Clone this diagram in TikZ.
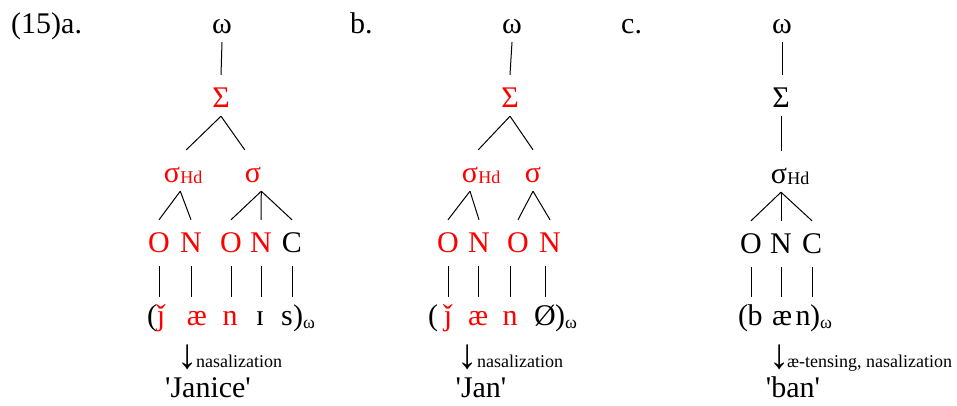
\documentclass[tikz,border=0pt]{standalone}
\usepackage{fontspec}
\setmainfont{Liberation Serif}
\usepackage{xcolor}
\newcommand{\lfont}{\fontsize{30}{34}\selectfont}
\newcommand{\sfont}{\fontsize{18}{20}\selectfont}
\newcommand{\hfont}{\fontsize{18}{20}\selectfont}
\newcommand{\wsub}{\raisebox{-3pt}{\sfont ω}}
\newcommand{\qt}[1]{\textquotesingle#1\textquotesingle}
\newcommand{\dnarrow}{\scalebox{1.35}[1.4]{↓}}
\tikzset{
  lv/.style={anchor=base, inner sep=0pt, text height=32pt, text depth=9pt, font=\lfont},
  seg/.style={lv, text height=28pt},
  rd/.style={text=red},
  hd/.style={anchor=base west, inner sep=0pt, font=\hfont},
  br/.style={line width=1pt},
  txt/.style={anchor=base, inner sep=0pt, font=\lfont},
  sm/.style={anchor=base west, inner sep=0pt, font=\sfont},
  dn/.style={anchor=base, inner sep=0pt, text height=24pt, text depth=0pt, font=\lfont}
}
\begin{document}
\begin{tikzpicture}[x=1pt,y=-1pt]
  \useasboundingbox (0,0) rectangle (957,405);
  \node[txt, anchor=base west] (la) at (11,33) {(15)a.};
  \node[txt, anchor=base west] (lb) at (350,33) {b.};
  \node[txt, anchor=base west] (lc) at (621,33) {c.};
  % (a) Janice
  \node[lv] (wa) at (222,33) {ω};
  \node[lv, rd] (Sa) at (221,107) {Σ};
  \node[lv, rd] (sa1) at (172,182) {σ};
  \node[hd, rd] (ha) at ([yshift=-1pt]sa1.base east) {Hd};
  \node[lv, rd] (sa2) at (253,182) {σ};
  \node[lv, rd, text depth=14pt] (Oa1) at (159,252) {O};
  \node[lv, rd, text depth=14pt] (Na1) at (191,252) {N};
  \node[lv, rd, text depth=14pt] (Oa2) at (231,252) {O};
  \node[lv, rd, text depth=14pt] (Na2) at (261,252) {N};
  \node[lv, text depth=14pt] (Ca) at (292,252) {C};
  \node[seg, anchor=base west] (pa1) at (147,325) {(};
  \node[seg, rd] (ja) at (161,325) {ǰ};
  \node[seg, rd] (aea) at (197,325) {æ};
  \node[seg, rd] (na) at (230,325) {n};
  \node[seg] (ia) at (260,325) {ɪ};
  \node[seg] (za) at (287,325) {s};
  \node[seg, anchor=base west] (pa2) at (293,325) {)\wsub};
  \draw[br] (wa.south) -- (Sa.north);
  \draw[br] (Sa.south) -- ([xshift=6pt]sa1.north east);
  \draw[br] (Sa.south) -- (sa2.north west);
  \draw[br] (sa1.south east) -- (Oa1.north);
  \draw[br] (sa1.south east) -- (Na1.north);
  \foreach \c in {Oa2,Na2,Ca}
    \draw[br] (sa2.south east) -- (\c.north);
  \foreach \p/\c in {Oa1/ja,Na1/aea,Oa2/na,Na2/ia,Ca/za}
    \draw[br] (\p.south) -- (\p.south |- \c.north);
  \node[dn] (ara) at (188,368) {\dnarrow};
  \node[sm] (nza) at (196,367) {nasalization};
  \node[txt] (ga) at (208,397) {\qt{Janice}};
  % (b) Jan
  \node[lv] (wb) at (512,33) {ω};
  \node[lv, rd] (Sb) at (510,107) {Σ};
  \node[lv, rd] (sb1) at (470,182) {σ};
  \node[hd, rd] (hb) at ([yshift=-1pt]sb1.base east) {Hd};
  \node[lv, rd] (sb2) at (533,182) {σ};
  \node[lv, rd, text depth=14pt] (Ob1) at (448,252) {O};
  \node[lv, rd, text depth=14pt] (Nb1) at (479,252) {N};
  \node[lv, rd, text depth=14pt] (Ob2) at (518,252) {O};
  \node[lv, rd, text depth=14pt] (Nb2) at (550,252) {N};
  \node[seg, anchor=base west] (pb1) at (428,325) {(};
  \node[seg, rd] (jb) at (448,325) {ǰ};
  \node[seg, rd] (aeb) at (478,325) {æ};
  \node[seg, rd] (nb) at (510,325) {n};
  \node[seg] (zb) at (545,325) {Ø};
  \node[seg, anchor=base west] (pb2) at (555,325) {)\wsub};
  \draw[br] (wb.south) -- (Sb.north);
  \draw[br] (Sb.south) -- (sb1.north east);
  \draw[br] (Sb.south) -- (sb2.north);
  \draw[br] (sb1.south) -- (Ob1.north);
  \draw[br] (sb1.south) -- (Nb1.north);
  \draw[br] (sb2.south) -- (Ob2.north);
  \draw[br] (sb2.south) -- (Nb2.north);
  \foreach \p/\c in {Ob1/jb,Nb1/aeb,Ob2/nb,Nb2/zb}
    \draw[br] (\c.north |- \p.south) -- (\c.north);
  \node[dn] (arb) at (468,368) {\dnarrow};
  \node[sm] (nzb) at (477,367) {nasalization};
  \node[txt] (gb) at (481,397) {\qt{Jan}};
  % (c) ban
  \node[lv] (wc) at (782,33) {ω};
  \node[lv] (Sc) at (781,107) {Σ};
  \node[lv] (sc) at (779,183) {σ};
  \node[hd] (hc) at ([yshift=-1pt]sc.base east) {Hd};
  \node[lv, text depth=14pt] (Oc) at (751,253) {O};
  \node[lv, text depth=14pt] (Nc) at (781,253) {N};
  \node[lv, text depth=14pt] (Cc) at (812,253) {C};
  \node[seg, anchor=base west] (pc1) at (738,325) {(};
  \node[seg] (bc) at (755,325) {b};
  \node[seg] (aec) at (782,325) {æ};
  \node[seg] (nc) at (803,325) {n};
  \node[seg, anchor=base west] (pc2) at (810,325) {)\wsub};
  \draw[br] (wc.south) -- (wc.south |- Sc.north);
  \draw[br] (Sc.south) -- (Sc.south |- sc.north);
  \foreach \c in {Oc,Nc,Cc}
    \draw[br] ([xshift=2pt]sc.south) -- (\c.north);
  \foreach \p/\c in {Oc/bc,Nc/aec,Cc/nc}
    \draw[br] (\p.south) -- (\p.south |- \c.north);
  \node[dn] (arc) at (780,368) {\dnarrow};
  \node[sm] (nzc) at (787,367) {æ-tensing, nasalization};
  \node[txt] (gc) at (793,397) {\qt{ban}};
\end{tikzpicture}
\end{document}
